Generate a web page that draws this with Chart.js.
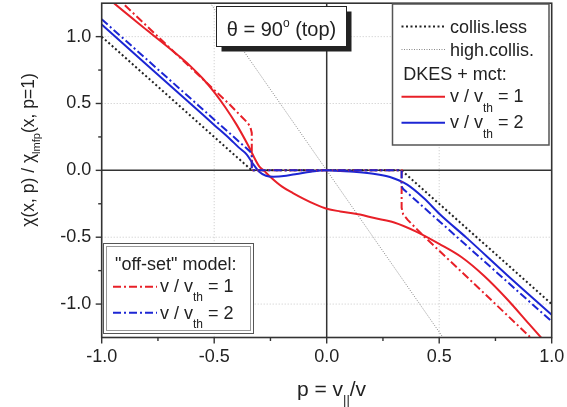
<!DOCTYPE html>
<html><head><meta charset="utf-8">
<script src="https://cdn.jsdelivr.net/npm/chart.js@4/dist/chart.umd.min.js"></script>
<style>html,body{margin:0;padding:0;background:#fff}canvas{display:block}</style>
</head><body>
<canvas id="c" width="567" height="407"></canvas>
<script>
// ---- data ----
const xTicks = [-1.0, -0.5, 0.0, 0.5, 1.0];
const yTicks = [-1.0, -0.5, 0.0, 0.5, 1.0];
const xMinorTicks = [-0.75, -0.25, 0.25, 0.75];
const yMinorTicks = [-0.75, -0.25, 0.25, 0.75];

const collisLessX = [-1.0, -0.333, 0.333, 1.0];
const collisLessY = [1.0, 0.0, 0.0, -1.0];

const highCollisX = [-0.55, 0.55];
const highCollisY = [1.33, -1.33];

const dkes1X = [-1.0, -0.948, -0.8, -0.65, -0.6, -0.55, -0.5, -0.45, -0.4, -0.35, -0.3, -0.28, -0.25, -0.2, -0.15, -0.1, -0.05, 0.0, 0.06, 0.148, 0.207, 0.3, 0.4, 0.5, 0.6, 0.7, 0.8, 0.9, 1.0];
const dkes1Y = [1.33, 1.254, 1.05, 0.845, 0.77, 0.685, 0.585, 0.47, 0.34, 0.19, 0.03, 0.0, -0.05, -0.12, -0.17, -0.215, -0.255, -0.287, -0.307, -0.33, -0.355, -0.39, -0.46, -0.55, -0.65, -0.79, -0.96, -1.15, -1.34];

const dkes2X = [-1.0, -0.8, -0.6, -0.5, -0.43, -0.39, -0.356, -0.326, -0.3, -0.27, -0.237, -0.18, -0.133, -0.07, 0.0, 0.06, 0.12, 0.207, 0.281, 0.356, 0.43, 0.504, 0.622, 0.8, 1.0];
const dkes2Y = [1.09, 0.79, 0.49, 0.34, 0.235, 0.17, 0.12, 0.045, -0.01, -0.04, -0.047, -0.04, -0.027, -0.01, 0.0, -0.005, -0.01, -0.025, -0.05, -0.105, -0.205, -0.33, -0.505, -0.78, -1.08];

const offset1X = [-1.0, -0.667, -0.43, -0.36, -0.34, -0.333, -0.333, 0.333, 0.333, 0.34, 0.36, 0.43, 0.667, 1.0];
const offset1Y = [1.40, 0.867, 0.49, 0.37, 0.33, 0.28, 0.0, 0.0, -0.28, -0.33, -0.37, -0.49, -0.867, -1.40];

const offset2X = [-1.0, -0.36, -0.34, -0.333, -0.333, 0.333, 0.333, 0.34, 0.36, 1.0];
const offset2Y = [1.13, 0.17, 0.14, 0.12, 0.0, 0.0, -0.12, -0.14, -0.17, -1.13];

// ---- styling ----
const RED = 'rgb(232,32,40)';
const BLUE = 'rgb(28,38,212)';
const FAM = '"Liberation Sans", Arial, Helvetica, sans-serif';
const DASHDOT = [8, 3, 2, 3];

function pts(xs, ys) { return xs.map((x, i) => ({x: x, y: ys[i]})); }

function richText(ctx, segs, x, y, size, align, subSize, subOff) {
  const ss = subSize || Math.round(size * 0.65);
  const so = subOff == null ? size * 0.45 : subOff;
  let w = 0;
  const parts = segs.map(s => {
    const fs = (s.sub || s.sup) ? ss : size;
    ctx.font = fs + 'px ' + FAM;
    const mw = ctx.measureText(s.t).width;
    w += mw;
    return {s: s, fs: fs, mw: mw};
  });
  let cx = align === 'center' ? x - w / 2 : x;
  ctx.textAlign = 'left';
  ctx.textBaseline = 'alphabetic';
  for (const p of parts) {
    ctx.font = p.fs + 'px ' + FAM;
    const dy = p.s.sub ? so : (p.s.sup ? -size * 0.42 : 0);
    ctx.fillText(p.s.t, cx, y + dy);
    cx += p.mw;
  }
}

function sample(ctx, x1, x2, y, color, width, dash) {
  ctx.save();
  ctx.strokeStyle = color; ctx.lineWidth = width; ctx.setLineDash(dash || []);
  ctx.beginPath(); ctx.moveTo(x1, y); ctx.lineTo(x2, y); ctx.stroke();
  ctx.restore();
}

const decor = {
  id: 'decor',
  beforeDatasetsDraw(chart) {
    const {ctx, chartArea: a, scales: {x, y}} = chart;
    ctx.save();
    ctx.strokeStyle = '#c8c8c8'; ctx.lineWidth = 1; ctx.setLineDash([1, 2]);
    xTicks.forEach(v => { if (v === 0 || Math.abs(v) === 1) return; const px = x.getPixelForValue(v); ctx.beginPath(); ctx.moveTo(px, a.top); ctx.lineTo(px, a.bottom); ctx.stroke(); });
    yTicks.forEach(v => { if (v === 0) return; const py = y.getPixelForValue(v); ctx.beginPath(); ctx.moveTo(a.left, py); ctx.lineTo(a.right, py); ctx.stroke(); });
    ctx.setLineDash([]); ctx.strokeStyle = '#333'; ctx.lineWidth = 1.5;
    const x0 = x.getPixelForValue(0), y0 = y.getPixelForValue(0);
    ctx.beginPath(); ctx.moveTo(x0, a.top); ctx.lineTo(x0, a.bottom); ctx.stroke();
    ctx.beginPath(); ctx.moveTo(a.left, y0); ctx.lineTo(a.right, y0); ctx.stroke();
    ctx.restore();
  },
  afterDatasetsDraw(chart) {
    const {ctx, chartArea: a, scales: {x, y}} = chart;
    ctx.save();
    ctx.strokeStyle = '#333'; ctx.lineWidth = 1.6;
    ctx.strokeRect(a.left, a.top, a.right - a.left, a.bottom - a.top);
    ctx.lineWidth = 1.4;
    xTicks.forEach(v => { const px = x.getPixelForValue(v); ctx.beginPath(); ctx.moveTo(px, a.bottom); ctx.lineTo(px, a.bottom + 6); ctx.stroke(); });
    xMinorTicks.forEach(v => { const px = x.getPixelForValue(v); ctx.beginPath(); ctx.moveTo(px, a.bottom); ctx.lineTo(px, a.bottom + 3.5); ctx.stroke(); });
    yTicks.forEach(v => { const py = y.getPixelForValue(v); ctx.beginPath(); ctx.moveTo(a.left, py); ctx.lineTo(a.left - 6, py); ctx.stroke(); });
    yMinorTicks.forEach(v => { const py = y.getPixelForValue(v); ctx.beginPath(); ctx.moveTo(a.left, py); ctx.lineTo(a.left - 3.5, py); ctx.stroke(); });

    // title box with shadow
    ctx.fillStyle = '#222';
    ctx.fillRect(221.5, 11.5, 130, 40);
    ctx.fillStyle = '#fff';
    ctx.fillRect(216.5, 6.5, 130, 40);
    ctx.strokeStyle = '#222'; ctx.lineWidth = 1;
    ctx.strokeRect(216.5, 6.5, 130, 40);
    ctx.fillStyle = '#222';
    richText(ctx, [{t: '\u03B8 = 90'}, {t: 'o', sup: true}, {t: ' (top)'}], 281.5, 35.5, 20, 'center', 12);

    // right legend
    ctx.fillStyle = '#fff';
    ctx.fillRect(392.5, 4, 156.5, 141);
    ctx.strokeStyle = '#555'; ctx.lineWidth = 1.5;
    ctx.strokeRect(392.5, 4, 156.5, 141);
    sample(ctx, 401.5, 445, 26.5, '#222', 2, [2, 2.5]);
    sample(ctx, 401.5, 445, 49.5, '#888', 1, [1, 1.5]);
    sample(ctx, 401.5, 445, 96.7, RED, 2, []);
    sample(ctx, 401.5, 445, 122.7, BLUE, 2, []);
    ctx.fillStyle = '#222';
    richText(ctx, [{t: 'collis.less'}], 450, 32.5, 18);
    richText(ctx, [{t: 'high.collis.'}], 450, 55.5, 18);
    richText(ctx, [{t: 'DKES + mct:'}], 403.3, 79.5, 18);
    richText(ctx, [{t: 'v / v'}, {t: 'th', sub: true}, {t: ' = 1'}], 450, 102, 18, 'left', 12, 10);
    richText(ctx, [{t: 'v / v'}, {t: 'th', sub: true}, {t: ' = 2'}], 450, 128, 18, 'left', 12, 10);

    // bottom-left legend
    ctx.fillStyle = '#fff';
    ctx.fillRect(103.5, 243.5, 150, 90);
    ctx.strokeStyle = '#555'; ctx.lineWidth = 1;
    ctx.strokeRect(103.5, 243.5, 150, 90);
    ctx.strokeStyle = '#999';
    ctx.strokeRect(106.5, 246.5, 144, 84);
    sample(ctx, 113, 157, 286.7, RED, 2, DASHDOT);
    sample(ctx, 113, 157, 312.7, BLUE, 2, DASHDOT);
    ctx.fillStyle = '#222';
    richText(ctx, [{t: '"off-set" model:'}], 115, 270, 18);
    richText(ctx, [{t: 'v / v'}, {t: 'th', sub: true}, {t: ' = 1'}], 160, 292, 18, 'left', 12, 9);
    richText(ctx, [{t: 'v / v'}, {t: 'th', sub: true}, {t: ' = 2'}], 160, 318.5, 18, 'left', 12, 9);

    // axis titles
    richText(ctx, [{t: 'p = v'}, {t: '||', sub: true}, {t: '/v'}], 331.5, 396, 21, 'center', 13, 8);
    ctx.save();
    ctx.translate(34, 150);
    ctx.rotate(-Math.PI / 2);
    richText(ctx, [{t: '\u03C7(x, p) / \u03C7'}, {t: 'lmfp', sub: true}, {t: '(x, p=1)'}], 0, 0, 17.5, 'center', 11, 5.5);
    ctx.restore();
    ctx.restore();
  }
};

const datasets = [
  {label: 'off-set v/vth=2', data: pts(offset2X, offset2Y), borderColor: BLUE, borderWidth: 2, borderDash: DASHDOT},
  {label: 'off-set v/vth=1', data: pts(offset1X, offset1Y), borderColor: RED, borderWidth: 2, borderDash: DASHDOT},
  {label: 'DKES v/vth=2', data: pts(dkes2X, dkes2Y), borderColor: BLUE, borderWidth: 2, cubicInterpolationMode: 'monotone'},
  {label: 'DKES v/vth=1', data: pts(dkes1X, dkes1Y), borderColor: RED, borderWidth: 2, cubicInterpolationMode: 'monotone'},
  {label: 'collis.less', data: pts(collisLessX, collisLessY), borderColor: '#222', borderWidth: 2, borderDash: [2, 2.5]},
  {label: 'high.collis.', data: pts(highCollisX, highCollisY), borderColor: '#888', borderWidth: 1, borderDash: [1, 1.5]}
];
datasets.forEach(d => { d.showLine = true; d.pointRadius = 0; d.pointHoverRadius = 0; d.fill = false; });

new Chart(document.getElementById('c'), {
  type: 'scatter',
  data: {datasets: datasets},
  options: {
    responsive: false,
    animation: false,
    devicePixelRatio: 1,
    layout: {padding: {left: 0, right: 15.3, top: 3.2, bottom: 0}},
    plugins: {legend: {display: false}, tooltip: {enabled: false}},
    scales: {
      x: {
        type: 'linear', min: -1, max: 1,
        afterBuildTicks: s => { s.ticks = xTicks.map(v => ({value: v})); },
        afterFit: s => { s.height = 69.5; s.paddingLeft = 0; s.paddingRight = 0; },
        grid: {display: false, drawTicks: false},
        border: {display: false},
        ticks: {callback: v => v.toFixed(1), font: {family: FAM, size: 18}, color: '#222', padding: 8.5, maxRotation: 0, autoSkip: false}
      },
      y: {
        type: 'linear', min: -1.25, max: 1.25,
        afterBuildTicks: s => { s.ticks = yTicks.map(v => ({value: v})); },
        afterFit: s => { s.width = 101.7; s.paddingTop = 0; s.paddingBottom = 0; },
        grid: {display: false, drawTicks: false},
        border: {display: false},
        ticks: {callback: v => v.toFixed(1), font: {family: FAM, size: 18}, color: '#222', padding: 10.5, autoSkip: false}
      }
    }
  },
  plugins: [decor]
});
</script>
</body></html>
